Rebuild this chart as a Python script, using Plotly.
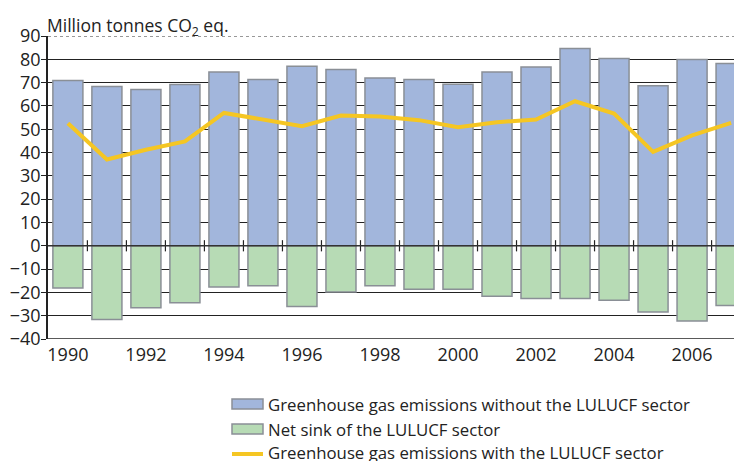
import plotly.graph_objects as go

years = list(range(1990, 2008))

# emissions without LULUCF (million t CO2 eq.)
emissions_excl = [70.9, 68.3, 67.0, 69.2, 74.6, 71.3, 77.0, 75.6, 72.0,
                  71.3, 69.3, 74.6, 76.7, 84.6, 80.3, 68.7, 79.9, 78.2]
# net sink of LULUCF sector
lulucf_sink = [-18.1, -31.6, -26.6, -24.4, -17.7, -17.1, -26.1, -19.8, -17.1,
               -18.7, -18.7, -21.7, -22.6, -22.6, -23.4, -28.4, -32.3, -25.6]
# emissions including LULUCF
emissions_incl = [52.6, 37.0, 41.2, 44.8, 57.0, 54.2, 51.3, 55.9, 55.5,
                  53.9, 50.9, 53.0, 54.2, 62.0, 56.7, 40.3, 47.4, 52.7]

tick_years = [1990, 1992, 1994, 1996, 1998, 2000, 2002, 2004, 2006]

legend_names = [
    "Greenhouse gas emissions without the LULUCF sector",
    "Net sink of the LULUCF sector",
    "Greenhouse gas emissions with the LULUCF sector",
]

FONT = "Open Sans, DejaVu Sans, sans-serif"
BLUE = "#a2b6dc"
GREEN = "#b7dbb5"
YELLOW = "#f5c623"
EDGE = "#8a8f96"
INK = "#222"

fig = go.Figure()

fig.add_trace(go.Bar(
    x=years, y=emissions_excl, width=0.77, name=legend_names[0],
    marker=dict(color=BLUE, line=dict(color=EDGE, width=1.5)),
))
fig.add_trace(go.Bar(
    x=years, y=lulucf_sink, width=0.77, name=legend_names[1],
    marker=dict(color=GREEN, line=dict(color=EDGE, width=1.5)),
))

# zero line drawn over the bars
fig.add_shape(type="line", xref="paper", yref="y", x0=0, x1=1, y0=0, y1=0,
              line=dict(color="#333", width=1.5), layer="above")

fig.add_trace(go.Scatter(
    x=years, y=emissions_incl, mode="lines", name=legend_names[2],
    line=dict(color=YELLOW, width=4),
))

# small category ticks on the zero line, between bars
fig.add_trace(go.Scatter(
    x=[y + 0.5 for y in years[:-1]], y=[0] * (len(years) - 1),
    mode="markers", hoverinfo="skip",
    marker=dict(symbol="line-ns-open", size=8, color=INK,
                line=dict(color=INK, width=1.2)),
))

# dotted top border at 90, solid bottom line at -40
fig.add_shape(type="line", xref="paper", yref="y", x0=0, x1=1, y0=90, y1=90,
              line=dict(color="#777", width=1.5, dash="dot"), layer="below")
fig.add_shape(type="line", xref="paper", yref="y", x0=0, x1=1, y0=-40, y1=-40,
              line=dict(color=INK, width=1.5))

fig.add_annotation(
    text="Million tonnes CO<sub>2</sub> eq.", xref="paper", yref="paper",
    x=0, y=1.0, xanchor="left", yanchor="bottom", showarrow=False,
    font=dict(family=FONT, size=17.5, color=INK), yshift=-6, xshift=-3,
)

# hand-drawn legend below the plot; positions given in page pixels,
# plot area spans x 48..742, y 36..339 on the page
plot_w, plot_h = 694, 303
sw_x0 = (232 - 48) / plot_w
sw_x1 = (263 - 48) / plot_w
txt_x = (266 - 48) / plot_w
rows_px = [404, 429, 453]
for i, (name, py) in enumerate(zip(legend_names, rows_px)):
    yc = -(py - 339) / plot_h
    if i < 2:
        fig.add_shape(type="rect", xref="paper", yref="paper",
                      x0=sw_x0, x1=sw_x1, y0=yc - 5 / plot_h, y1=yc + 5 / plot_h,
                      fillcolor=[BLUE, GREEN][i], line=dict(color=EDGE, width=1.5))
    else:
        fig.add_shape(type="line", xref="paper", yref="paper",
                      x0=sw_x0, x1=sw_x1, y0=yc - 1 / plot_h, y1=yc - 1 / plot_h,
                      line=dict(color=YELLOW, width=4))
    fig.add_annotation(
        text=name, xref="paper", yref="paper", x=txt_x, y=yc,
        xanchor="left", yanchor="middle", showarrow=False,
        font=dict(family=FONT, size=16.8, color=INK),
    )

# the page body adds an 8px margin, so the figure is 8px smaller
fig.update_layout(
    width=734, height=453,
    margin=dict(l=40, r=0, t=28, b=122, autoexpand=False),
    barmode="relative",
    showlegend=False,
    plot_bgcolor="white", paper_bgcolor="white",
    font=dict(family=FONT, size=18, color=INK),
    xaxis=dict(
        range=[1989.49, 2007.28], tickvals=tick_years,
        showgrid=False, zeroline=False, ticks="", showline=False,
        tickfont=dict(size=18), ticklabelstandoff=3,
    ),
    yaxis=dict(
        range=[-40, 90], dtick=10, tick0=0,
        showgrid=True, gridcolor=INK, gridwidth=1,
        zeroline=False,
        showline=True, linecolor=INK, linewidth=1.5,
        ticks="outside", ticklen=5, tickcolor=INK,
        tickfont=dict(size=18), ticklabelstandoff=-3,
    ),
)

fig.write_html("out.html")
